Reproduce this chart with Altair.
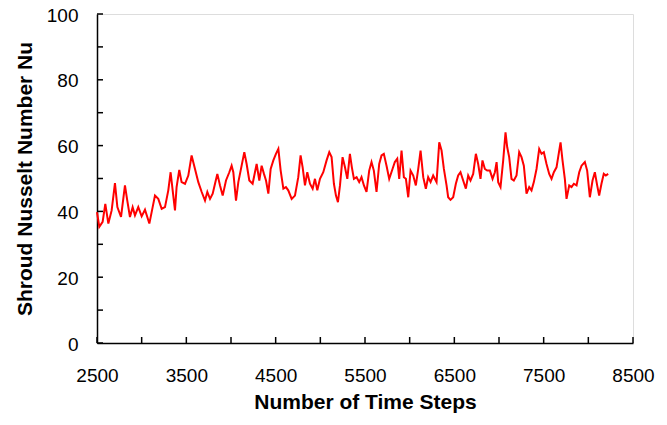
import altair as alt
import pandas as pd

# Time step values and Nusselt numbers
steps = [2500, 2526, 2563, 2593, 2627, 2664, 2701, 2728, 2769, 2813, 2839, 2869, 2899, 2925,
         2962, 3000, 3037, 3086, 3123, 3149, 3186, 3224, 3261, 3298, 3324, 3347, 3373, 3391,
         3421, 3447, 3485, 3522, 3559, 3597, 3634,
         3672, 3709, 3735, 3765, 3795, 3821, 3847, 3877, 3907, 3944, 3981, 4007, 4026, 4056,
         4082, 4119, 4149, 4175, 4205, 4242, 4287, 4317, 4343, 4369, 4392, 4418, 4444, 4474,
         4503, 4530, 4556, 4586, 4615, 4641, 4679, 4716, 4753, 4779, 4802, 4828, 4854, 4884,
         4914, 4940, 4966, 4996, 5033, 5070, 5100, 5126, 5152, 5175, 5197, 5220, 5249, 5276,
         5302,
         5331, 5353, 5376, 5406, 5435, 5461, 5488, 5517, 5547, 5573, 5599, 5629, 5659, 5685,
         5711, 5741, 5771, 5808, 5834, 5861, 5883, 5909, 5935, 5958, 5984, 6010, 6040, 6069,
         6096, 6122, 6152, 6181, 6207, 6234, 6263, 6301, 6331, 6357, 6383, 6413, 6431, 6457,
         6487, 6517, 6543, 6569, 6599, 6629, 6655, 6681, 6711, 6741, 6767, 6793, 6815, 6842,
         6868,
         6898, 6928, 6954, 6973, 6991, 7017, 7047, 7073, 7092, 7114, 7140, 7166, 7196, 7226,
         7252, 7278, 7308, 7338, 7364, 7390, 7420, 7450, 7476, 7502, 7532, 7562, 7588, 7614,
         7644, 7674, 7689, 7711, 7737, 7756, 7786, 7812, 7838, 7868, 7898, 7924, 7961, 7987,
         8017, 8047, 8073, 8099, 8121, 8147, 8173, 8196, 8222]

nusselt = [39.8, 35.3, 36.8, 42.3, 36.3, 40.3, 48.6, 41.3, 38.3, 47.9, 43.3, 38.3, 41.3, 38.8,
           41.3, 38.5, 40.5, 36.3, 41.3, 44.8, 43.8, 40.8, 41.3, 46.4, 51.9, 46.4, 40.3, 47.4,
           52.6, 48.9, 48.4, 50.9, 57.0, 52.9, 48.9,
           45.9, 43.3, 45.9, 43.8, 45.4, 48.4, 51.4, 47.9, 44.8, 49.4, 51.9, 53.9, 51.9, 43.3,
           48.9, 53.9, 58.0, 54.4, 49.4, 48.4, 54.4, 49.4, 53.9, 51.4, 49.4, 45.4, 52.9, 55.5,
           57.5, 59.0, 52.4, 46.9, 47.4, 46.4, 43.8, 44.8, 50.4, 57.0, 53.4, 47.9, 51.9, 48.4,
           46.9, 49.9, 46.4, 49.9, 51.9, 55.5, 58.0, 56.5, 48.4, 44.8, 42.8, 47.9, 56.5, 53.4,
           49.9,
           57.5, 53.4, 49.9, 50.4, 48.9, 50.4, 47.9, 45.9, 52.4, 55.0, 52.4, 45.9, 54.4, 57.0,
           57.5, 53.9, 49.9, 52.9, 55.0, 56.0, 49.9, 58.5, 50.4, 49.9, 44.3, 52.4, 50.9, 47.9,
           52.9, 58.5, 50.4, 46.9, 50.4, 48.9, 50.9, 48.9, 61.0, 58.5, 52.9, 47.9, 44.3, 43.5,
           44.3, 48.4, 50.9, 51.9, 49.4, 46.9, 50.9, 49.4, 51.4, 57.5, 54.4, 49.9, 55.5, 52.9,
           52.4,
           52.4, 49.9, 51.9, 55.0, 48.9, 47.4, 55.5, 64.0, 59.5, 56.5, 49.9, 49.4, 50.9, 58.0,
           56.5, 53.9, 45.4, 47.4, 46.4, 48.9, 52.9, 59.0, 57.5, 58.0, 54.4, 51.4, 49.9, 51.9,
           53.4, 58.5, 61.0, 55.5, 49.9, 43.8, 47.9, 47.4, 48.4, 47.9, 51.9, 53.9, 55.0, 52.4,
           44.3, 49.4, 51.9, 47.9, 44.8, 48.4, 51.4, 50.9, 51.4]

x_ticks = [2500, 3000, 3500, 4000, 4500, 5000, 5500, 6000, 6500, 7000, 7500, 8000, 8500]
x_labels = [2500, 3500, 4500, 5500, 6500, 7500, 8500]
y_ticks = [0, 10, 20, 30, 40, 50, 60, 70, 80, 90, 100]
y_labels = [0, 20, 40, 60, 80, 100]

W, H = 536, 329
FONT = "Liberation Sans"

df = pd.DataFrame({"step": steps, "nu": nusselt})
dfx = pd.DataFrame({"step": x_ticks})
dfy = pd.DataFrame({"nu": y_ticks})

xscale = alt.Scale(domain=[2500, 8500], nice=False, zero=False)
yscale = alt.Scale(domain=[0, 100], nice=False)

xaxis = alt.Axis(values=x_labels, ticks=False, grid=False, domainColor="black",
                 domainWidth=1.5, labelFont=FONT, labelFontSize=19,
                 labelColor="black", labelPadding=23, labelFlush=False,
                 title="Number of Time Steps", titleFont=FONT, titleFontSize=21,
                 titleFontWeight="bold", titleColor="black",
                 titleX=W / 2, titleY=65, titleBaseline="alphabetic", format="d")
yaxis = alt.Axis(values=y_labels, ticks=False, grid=False, domainColor="black",
                 domainWidth=1.5, labelFont=FONT, labelFontSize=19,
                 labelColor="black", labelPadding=19, labelOffset=1, labelFlush=False,
                 title="Shroud Nusselt Number Nu", titleFont=FONT,
                 titleFontSize=21, titleFontWeight="bold", titleColor="black",
                 titleX=-66, titleY=H / 2, titleBaseline="alphabetic", titleAngle=270)

line = alt.Chart(df).mark_line(color="#ff0000", strokeWidth=2).encode(
    x=alt.X("step:Q", scale=xscale, axis=xaxis),
    y=alt.Y("nu:Q", scale=yscale, axis=yaxis),
)

xt = alt.Chart(dfx).mark_rule(color="black", strokeWidth=1.5).encode(
    x=alt.X("step:Q", scale=xscale, axis=xaxis),
    y=alt.value(H), y2=alt.value(H - 6),
)
yt = alt.Chart(dfy).mark_rule(color="black", strokeWidth=1.5).encode(
    y=alt.Y("nu:Q", scale=yscale, axis=yaxis),
    x=alt.value(0), x2=alt.value(6),
)

chart = alt.layer(line, xt, yt).properties(
    width=W, height=H,
    autosize=alt.AutoSizeParams(type="none"),
    padding={"left": 89, "top": 6, "right": 26, "bottom": 74},
).configure_view(stroke="#8c8c8c", strokeWidth=1.5).configure(background="white")

chart.save("out.html", embed_options={"renderer": "svg", "actions": False})
